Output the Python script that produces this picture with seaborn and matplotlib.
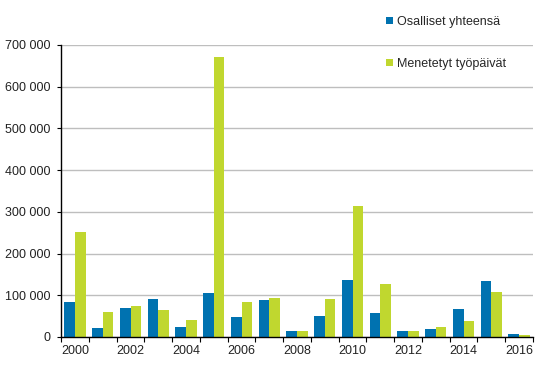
import pandas as pd
import seaborn as sns
import matplotlib.pyplot as plt
from matplotlib.ticker import FuncFormatter, FixedLocator

# Data
vuodet = list(range(2000, 2017))
osalliset = [84000, 21500, 70000, 91000, 24000, 106000, 48000, 89000, 14000,
             50000, 137000, 57000, 14000, 19000, 67000, 135000, 7000]
menetetyt = [252000, 60000, 74000, 65000, 41000, 672000, 84000, 93000, 14000,
             91000, 314000, 127000, 15000, 23000, 38000, 108000, 4000]
sarjat = ['Osalliset yhteensä', 'Menetetyt työpäivät']
varit = ['#0072B0', '#C0D72F']

df = pd.DataFrame({
    'vuosi': vuodet * 2,
    'arvo': osalliset + menetetyt,
    'sarja': [sarjat[0]] * len(vuodet) + [sarjat[1]] * len(vuodet),
})

sns.set_style('white')
plt.rcParams['font.family'] = ['Liberation Sans', 'DejaVu Sans']
plt.rcParams['font.size'] = 9

fig = plt.figure(figsize=(5.41, 3.74), dpi=100)
ax = fig.add_axes([0.113, 0.099, 0.872, 0.781])

sns.barplot(data=df, x='vuosi', y='arvo', hue='sarja', palette=varit,
            width=0.76, saturation=1, linewidth=0, ax=ax, legend=True)

ax.set_ylim(0, 700000)
ax.set_xlim(-0.5, len(vuodet) - 0.5)
ax.yaxis.set_major_formatter(FuncFormatter(lambda v, p: format(int(v), ',').replace(',', ' ')))
ax.grid(axis='y', color='#BEBEBE', linewidth=1)
ax.set_axisbelow(True)

# year labels every other year, tick marks at group boundaries
pos = list(range(0, len(vuodet), 2))
ax.xaxis.set_major_locator(FixedLocator(pos))
ax.set_xticklabels([str(vuodet[i]) for i in pos])
ax.xaxis.set_minor_locator(FixedLocator([i - 0.5 for i in range(len(vuodet) + 1)]))
ax.tick_params(axis='x', which='major', length=0, pad=6, labelsize=9, colors='#222222')
ax.tick_params(axis='x', which='minor', length=3.6, width=0.8, color='black', direction='out', bottom=True)
ax.tick_params(axis='y', length=3, width=0.8, color='black', direction='out', left=True,
               pad=5, labelsize=9, labelcolor='#222222')

ax.set_xlabel('')
ax.set_ylabel('')
sns.despine(ax=ax)
for s in ['left', 'bottom']:
    ax.spines[s].set_color('black')
    ax.spines[s].set_linewidth(1)

h, l = ax.get_legend_handles_labels()
ax.get_legend().remove()
fig.legend(h, l, loc='upper left', bbox_to_anchor=(0.713, 0.958), frameon=False,
           handlelength=0.55, handleheight=0.55, handletextpad=0.35, labelspacing=2.4,
           borderpad=0, borderaxespad=0, fontsize=9)

fig.savefig('out.png', dpi=100)
